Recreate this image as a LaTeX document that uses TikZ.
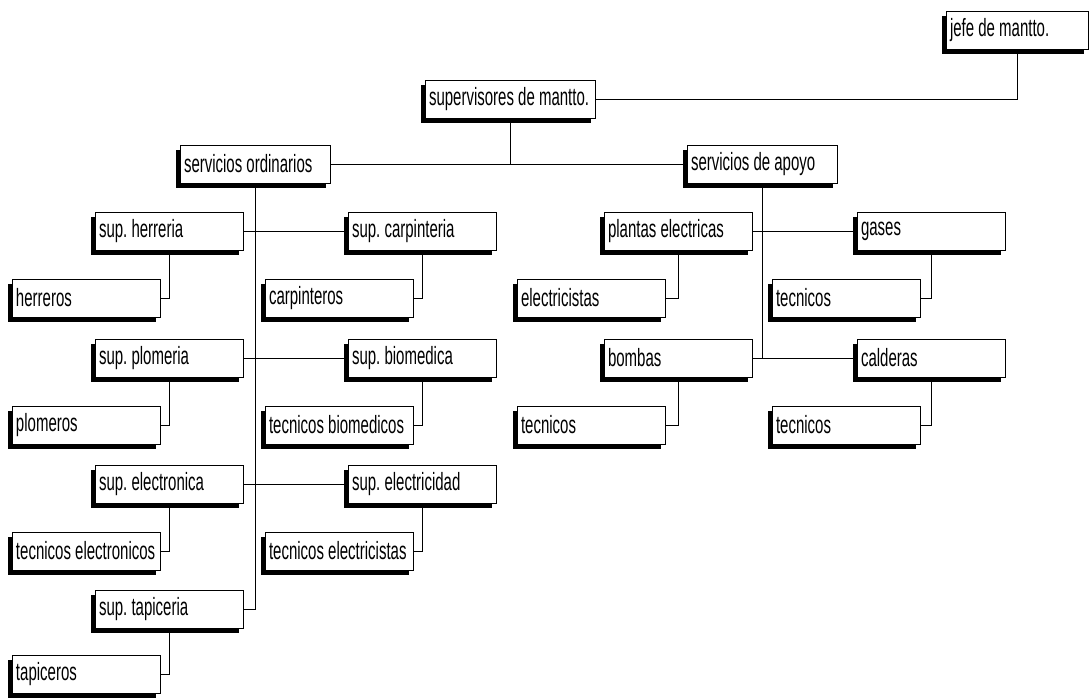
\documentclass[tikz,border=0pt]{standalone}
\usepackage{fontspec}
\setmainfont{Liberation Sans}[FakeStretch=0.6]

\newcommand{\caja}[2]{\makebox[#1][l]{#2}}

\tikzset{
	caja/.style={draw, fill=white, rectangle, line width=0.8pt, minimum height=38pt, inner xsep=4pt, inner ysep=0pt,
		font=\fontsize{25}{27}\selectfont\frenchspacing,
		preaction={fill=black, transform canvas={xshift=-4pt, yshift=-5pt}}},
	linea/.style={draw, line width=0.8pt}
}

\begin{document}
\begin{tikzpicture}[x=1pt, y=-1pt]
		\useasboundingbox (0, 0) rectangle (1089, 698);
		
		\node[caja] (jefe) at(1017, 30) {\caja{134pt}{jefe de mantto.}};
		\node[caja] (sup) at(510, 99) {\caja{162pt}{supervisores de mantto.}};
		\node[caja] (ord) at(255, 164) {\caja{142pt}{servicios ordinarios}};
		\node[caja] (apoyo) at(762, 164) {\caja{142pt}{servicios de apoyo}};
		
		% servicios ordinarios
		\node[caja] (herr) at(169, 231) {\caja{140pt}{sup. herreria}};
		\node[caja] (carp) at(422, 231) {\caja{140pt}{sup. carpinteria}};
		\node[caja] (herreros) at(86, 298) {\caja{140pt}{herreros}};
		\node[caja] (carpinteros) at(339, 298) {\caja{140pt}{carpinteros}};
		\node[caja] (plom) at(169, 358) {\caja{140pt}{sup. plomeria}};
		\node[caja] (biom) at(422, 358) {\caja{140pt}{sup. biomedica}};
		\node[caja] (plomeros) at(86, 425) {\caja{140pt}{plomeros}};
		\node[caja] (tecbiom) at(339, 425) {\caja{140pt}{tecnicos biomedicos}};
		\node[caja] (electron) at(169, 484) {\caja{140pt}{sup. electronica}};
		\node[caja] (electric) at(422, 484) {\caja{140pt}{sup. electricidad}};
		\node[caja] (tecelectron) at(86, 551) {\caja{140pt}{tecnicos electronicos}};
		\node[caja] (tecelectric) at(339, 551) {\caja{140pt}{tecnicos electricistas}};
		\node[caja] (tapic) at(169, 609) {\caja{140pt}{sup. tapiceria}};
		\node[caja] (tapiceros) at(86, 674) {\caja{140pt}{tapiceros}};
		
		% servicios de apoyo
		\node[caja] (plantas) at(678, 231) {\caja{140pt}{plantas electricas}};
		\node[caja] (gases) at(931, 231) {\caja{140pt}{gases}};
		\node[caja] (electricistas) at(591, 298) {\caja{140pt}{electricistas}};
		\node[caja] (tecgases) at(846, 298) {\caja{140pt}{tecnicos}};
		\node[caja] (bombas) at(678, 358) {\caja{140pt}{bombas}};
		\node[caja] (calderas) at(931, 358) {\caja{140pt}{calderas}};
		\node[caja] (tecbombas) at(591, 425) {\caja{140pt}{tecnicos}};
		\node[caja] (teccalderas) at(846, 425) {\caja{140pt}{tecnicos}};
		
		\draw[linea] (jefe.south) |- (sup.east);
		\draw[linea] (sup.south) -- (sup.south |- ord.east);
		\draw[linea] (ord.east) -- (apoyo.west);
		\draw[linea] (ord.south) |- (tapic.east);
		\draw[linea] (herr.east) -- (carp.west);
		\draw[linea] (plom.east) -- (biom.west);
		\draw[linea] (electron.east) -- (electric.west);
		\draw[linea] (apoyo.south) -- (apoyo.south |- bombas.east);
		\draw[linea] (plantas.east) -- (gases.west);
		\draw[linea] (bombas.east) -- (calderas.west);
		
		\draw[linea] (herr.south) |- (herreros.east);
		\draw[linea] (carp.south) |- (carpinteros.east);
		\draw[linea] (plom.south) |- (plomeros.east);
		\draw[linea] (biom.south) |- (tecbiom.east);
		\draw[linea] (electron.south) |- (tecelectron.east);
		\draw[linea] (electric.south) |- (tecelectric.east);
		\draw[linea] (tapic.south) |- (tapiceros.east);
		\draw[linea] (plantas.south) |- (electricistas.east);
		\draw[linea] (gases.south) |- (tecgases.east);
		\draw[linea] (bombas.south) |- (tecbombas.east);
		\draw[linea] (calderas.south) |- (teccalderas.east);
	\end{tikzpicture}
\end{document}
